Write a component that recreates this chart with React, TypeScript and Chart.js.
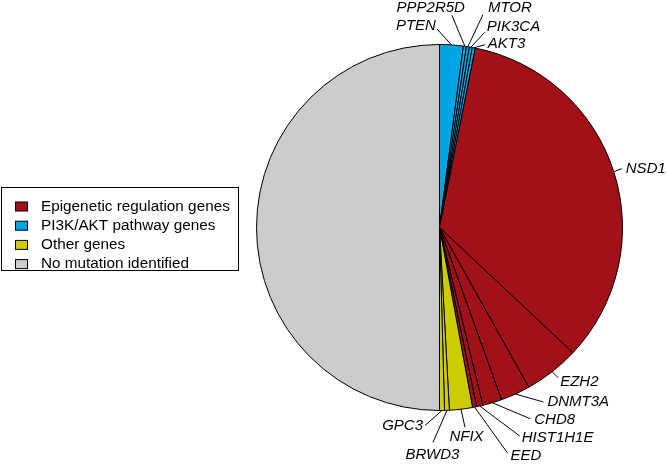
import React, { useEffect, useRef } from "react";
import { Chart, registerables } from "chart.js";

Chart.register(...registerables);

const genes = [
  "PTEN", "PPP2R5D", "MTOR", "PIK3CA", "AKT3",
  "NSD1", "EZH2", "DNMT3A", "CHD8", "HIST1H1E", "EED",
  "NFIX", "BRWD3", "GPC3",
  "No mutation identified",
];
const shares = [
  2.08, 0.27, 0.26, 0.26, 0.27,
  33.86, 4.89, 2.61, 1.69, 0.56, 0.36,
  2.03, 0.42, 0.44,
  50.0,
];
const groups = ["pi3k", "pi3k", "pi3k", "pi3k", "pi3k", "epi", "epi", "epi", "epi", "epi", "epi", "other", "other", "other", "none"];
const legendLabels = ["Epigenetic regulation genes", "PI3K/AKT pathway genes", "Other genes", "No mutation identified"];
const legendGroups = ["epi", "pi3k", "other", "none"];

const groupColors: Record<string, string> = {
  epi: "#A21018",
  pi3k: "#00A6E4",
  other: "#CCCC00",
  none: "#CCCCCC",
};

// label layout: leader offset (lx, ly) from slice edge, text alignment and text offset from leader end
const labelLayout = [
  { lx: -14.5, ly: -16, align: "right", tx: -1, ty: -3.5 },
  { lx: -13, ly: -31, align: "right", tx: 13, ty: -7 },
  { lx: 15, ly: -32, align: "left", tx: 5, ty: -6.5 },
  { lx: 14, ly: -15, align: "left", tx: 2, ty: -5.5 },
  { lx: 11, ly: -3, align: "left", tx: 3, ty: -1 },
  { lx: 8, ly: -3, align: "left", tx: 4, ty: 0 },
  { lx: 6, ly: 6, align: "left", tx: 2, ty: 4 },
  { lx: 28, ly: 8, align: "left", tx: 4, ty: -0.5 },
  { lx: 38, ly: 16, align: "left", tx: 4, ty: 1 },
  { lx: 40, ly: 30, align: "left", tx: 2, ty: 1.5 },
  { lx: 33, ly: 46, align: "left", tx: 3, ty: 3 },
  { lx: 4, ly: 18, align: "center", tx: 1.5, ty: 9.5 },
  { lx: -14, ly: 32, align: "center", tx: -0.5, ty: 12 },
  { lx: -17, ly: 15, align: "right", tx: -2, ty: 0 },
  null,
];

const labelPlugin = {
  id: "geneLabels",
  afterDraw(chart: any) {
    const ctx = chart.ctx;
    const meta = chart.getDatasetMeta(0);
    ctx.save();
    ctx.font = "italic 15px 'Liberation Sans', Arial, sans-serif";
    ctx.fillStyle = "#000";
    ctx.strokeStyle = "#000";
    ctx.lineWidth = 1;
    meta.data.forEach((arc: any, i: number) => {
      const lay = labelLayout[i];
      if (!lay) return;
      const { x, y, startAngle, endAngle, outerRadius } = arc.getProps(["x", "y", "startAngle", "endAngle", "outerRadius"], true);
      const mid = (startAngle + endAngle) / 2;
      const sx = x + Math.cos(mid) * outerRadius;
      const sy = y + Math.sin(mid) * outerRadius;
      const ex = sx + lay.lx;
      const ey = sy + lay.ly;
      ctx.beginPath();
      ctx.moveTo(sx, sy);
      ctx.lineTo(ex, ey);
      ctx.stroke();
      ctx.textAlign = lay.align;
      ctx.textBaseline = "middle";
      ctx.fillText(genes[i], ex + lay.tx, ey + lay.ty);
    });

    // legend box
    ctx.font = "15.3px 'Liberation Sans', Arial, sans-serif";
    ctx.fillStyle = "#fff";
    ctx.fillRect(1.5, 187.5, 237, 83);
    ctx.strokeRect(1.5, 187.5, 237, 83);
    legendLabels.forEach((lab, k) => {
      const cy = 206.5 + k * 19.2;
      ctx.fillStyle = groupColors[legendGroups[k]];
      ctx.fillRect(15.5, cy - 4.5, 12, 9);
      ctx.strokeRect(15.5, cy - 4.5, 12, 9);
      ctx.fillStyle = "#000";
      ctx.textAlign = "left";
      ctx.textBaseline = "middle";
      ctx.fillText(lab, 41, cy);
    });
    ctx.restore();
  },
};

export default function App() {
  const ref = useRef<HTMLCanvasElement>(null);
  useEffect(() => {
    if (!ref.current) return;
    const chart = new Chart(ref.current, {
      type: "pie",
      data: {
        labels: genes,
        datasets: [
          {
            data: shares,
            backgroundColor: groups.map((g) => groupColors[g]),
            borderColor: "#000",
            borderWidth: 1,
            hoverOffset: 0,
          },
        ],
      },
      options: {
        responsive: false,
        animation: false,
        devicePixelRatio: 1,
        layout: { padding: { top: 44, bottom: 55, left: 256, right: 44 } },
        plugins: {
          legend: { display: false },
          tooltip: { enabled: false },
        },
        events: [],
      },
      plugins: [labelPlugin],
    });
    return () => chart.destroy();
  }, []);
  return (
    <div style={{ position: "fixed", left: 0, top: 0, width: 667, height: 466, background: "#fff" }}>
      <canvas ref={ref} width={667} height={466} style={{ display: "block" }} />
    </div>
  );
}
